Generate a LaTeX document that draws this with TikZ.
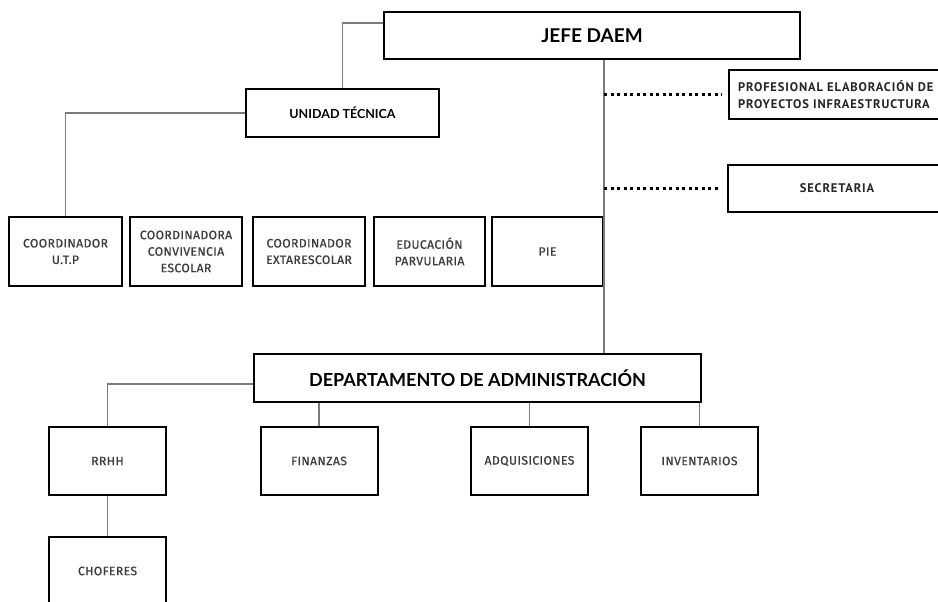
\documentclass[tikz,border=0pt]{standalone}
\usepackage{fontspec}
\usetikzlibrary{calc}
\newfontfamily\headfont{Lato}
\newfontfamily\smallfont[LetterSpace=3,FakeBold=0.7]{Fira Sans}
\newfontfamily\sidefont[LetterSpace=7]{PT Sans}
\definecolor{txtgray}{HTML}{3C3C3C}
\definecolor{linegray}{HTML}{7A7A7A}
\begin{document}
\begin{tikzpicture}[x=1pt,y=-1pt,
  box/.style={draw=black, line width=2pt, fill=white, inner sep=0pt, align=center},
  conn/.style={draw=linegray, line width=1.3pt},
  dotline/.style={draw=black, line width=3pt, dash pattern=on 3pt off 3.5pt},
  small/.style={font=\smallfont\fontsize{12.2}{16.5}\selectfont, text=txtgray},
  side/.style={font=\sidefont\bfseries\fontsize{12.5}{17}\selectfont, text=black!85},
  big/.style={font=\headfont\bfseries\fontsize{19}{22}\selectfont, text=black},
  mid/.style={font=\headfont\bfseries\fontsize{12.5}{14}\selectfont, text=black},
  rowbox/.style={box, small, minimum height=69},
  admbox/.style={box, small, minimum width=117, minimum height=68}
]
\clip (0,0) rectangle (938,602);
\fill[white] (0,0) rectangle (938,602);

% top
\node[box, big, minimum width=416, minimum height=47] (jefe) at (592,35.5) {JEFE DAEM};
\node[box, mid, minimum width=193, minimum height=48] (unidad) at (342.5,113) {UNIDAD TÉCNICA};
\node[box, side, anchor=west, text width=214, inner xsep=9pt, align=left, minimum height=49] (prof) at (728,94.5) {PROFESIONAL ELABORACIÓN DE\\PROYECTOS INFRAESTRUCTURA};
\node[box, side, minimum width=218, minimum height=47] (secr) at (837,188.5) {SECRETARIA};

% row of coordinators
\node[rowbox, minimum width=113] (cutp) at (65.5,251.5) {COORDINADOR\\U.T.P};
\node[rowbox, minimum width=112] (conv) at (186,251.5) {COORDINADORA\\CONVIVENCIA\\ESCOLAR};
\node[rowbox, minimum width=112] (extra) at (309,251.5) {COORDINADOR\\EXTARESCOLAR};
\node[rowbox, minimum width=111] (edu) at (429.5,251.5) {EDUCACIÓN\\PARVULARIA};
\node[rowbox, minimum width=111] (pie) at (547.5,251.5) {PIE};

% administration
\node[box, big, font=\headfont\bfseries\fontsize{18}{22}\selectfont, minimum width=447, minimum height=48] (dept) at (477.5,378) {DEPARTAMENTO DE ADMINISTRACIÓN};
\node[admbox] (rrhh) at (107.5,461) {RRHH};
\node[admbox] (fin) at (319,461) {FINANZAS};
\node[admbox] (adq) at (529.5,461) {ADQUISICIONES};
\node[admbox] (inv) at (699.5,461) {INVENTARIOS};
\node[admbox] (chof) at (107.5,571) {CHOFERES};

% connectors
\coordinate (vx) at (604,0);
\draw[conn] ($(jefe.north west)+(0,12)$) -| (unidad.north);
\draw[conn] (unidad.west) -| (cutp.north);
\draw[conn] (jefe.south -| vx) -- (dept.north -| vx);
\draw[dotline] (vx |- prof.west) -- ($(prof.west)+(-6,0)$);
\draw[dotline] (vx |- secr.west) -- ($(secr.west)+(-6,0)$);
\draw[conn] ($(dept.west)+(0,6)$) -| (rrhh.north);
\draw[conn] (dept.south -| fin.north) -- (fin.north);
\draw[conn] (dept.south -| adq.north) -- (adq.north);
\draw[conn] (dept.south -| inv.north) -- (inv.north);
\draw[conn] (rrhh.south) -- (chof.north);
\end{tikzpicture}
\end{document}
